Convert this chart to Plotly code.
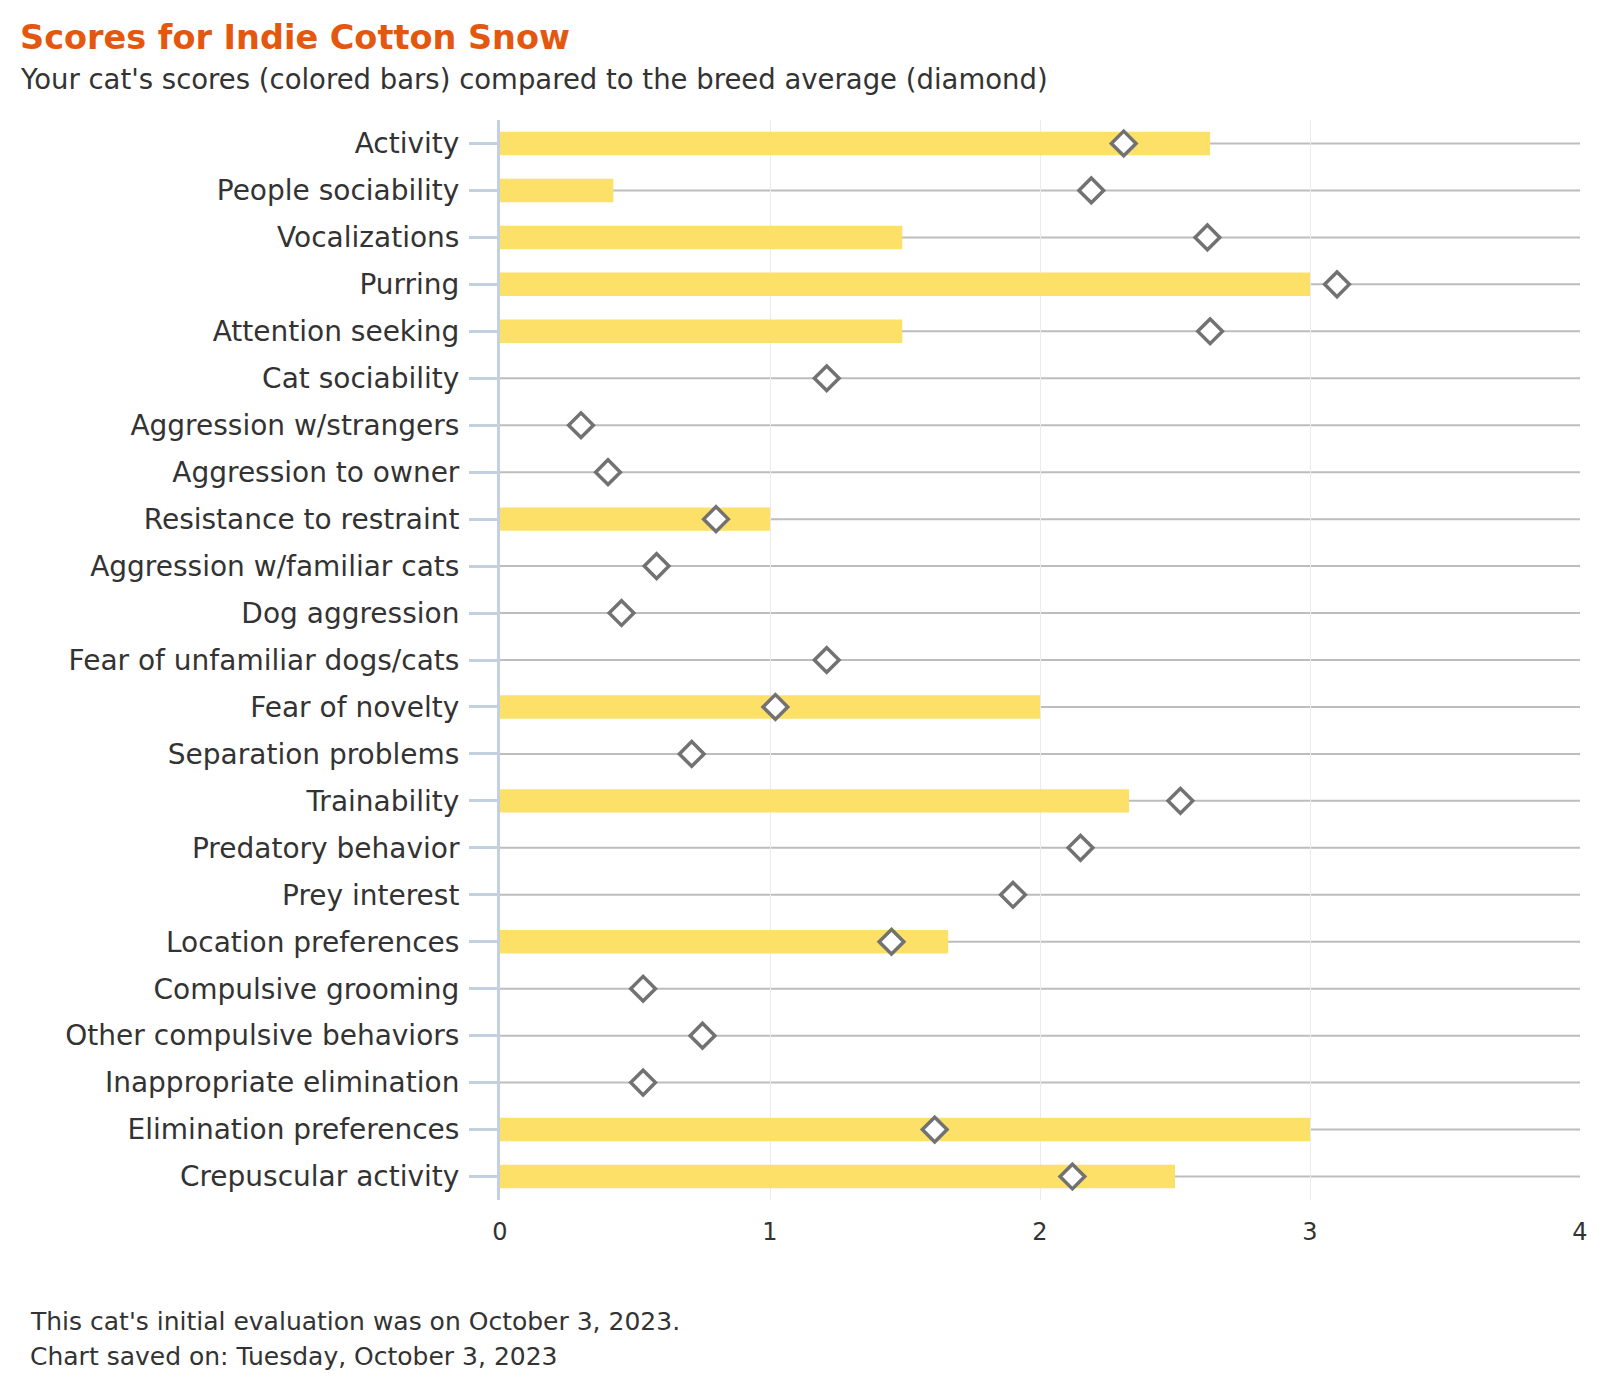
import plotly.graph_objects as go

categories = [
    "Activity", "People sociability", "Vocalizations", "Purring", "Attention seeking",
    "Cat sociability", "Aggression w/strangers", "Aggression to owner",
    "Resistance to restraint", "Aggression w/familiar cats", "Dog aggression",
    "Fear of unfamiliar dogs/cats", "Fear of novelty", "Separation problems",
    "Trainability", "Predatory behavior", "Prey interest", "Location preferences",
    "Compulsive grooming", "Other compulsive behaviors", "Inappropriate elimination",
    "Elimination preferences", "Crepuscular activity",
]
cat_scores = [2.63, 0.42, 1.49, 3.0, 1.49, 0, 0, 0, 1.0, 0, 0, 0, 2.0, 0,
              2.33, 0, 0, 1.66, 0, 0, 0, 3.0, 2.5]
breed_avg = [2.31, 2.19, 2.62, 3.10, 2.63, 1.21, 0.30, 0.40, 0.80, 0.58, 0.45,
             1.21, 1.02, 0.71, 2.52, 2.15, 1.90, 1.45, 0.53, 0.75, 0.53, 1.61, 2.12]
x_ticks = [0, 1, 2, 3, 4]
x_max = 4

FONT = "DejaVu Sans"
W, H = 1600, 1400
ML, MR, MT, MB = 492, 28, 112, 208
PW, PH = W - ML - MR, H - MT - MB
OFF = 8  # page body offset

fig = go.Figure()
fig.add_trace(go.Bar(
    y=categories, x=cat_scores, orientation="h", width=0.5,
    marker=dict(color="#FDE068", line=dict(width=0)), name="Your cat",
    hoverinfo="x+y",
))
fig.add_trace(go.Scatter(
    y=categories, x=breed_avg, mode="markers", name="Breed average",
    marker=dict(symbol="diamond", size=19, color="white",
                line=dict(color="#727272", width=3.5)),
))

for c in categories:
    fig.add_shape(type="line", xref="x", yref="y", x0=0, x1=x_max, y0=c, y1=c,
                  line=dict(color="#BDBDBD", width=2), layer="below")

fig.update_layout(
    width=W, height=H,
    margin=dict(l=ML, r=MR, t=MT, b=MB),
    plot_bgcolor="white", paper_bgcolor="white",
    showlegend=False,
    font=dict(family=FONT, color="#333333"),
    xaxis=dict(
        range=[0, x_max], tickvals=x_ticks, showgrid=True, gridcolor="#EBEBEB",
        gridwidth=1, zeroline=False, showline=False, ticks="",
        tickfont=dict(size=24, color="#333333"), automargin=False,
        ticklabelstandoff=15,
    ),
    yaxis=dict(
        categoryorder="array", categoryarray=categories,
        range=[len(categories) - 0.5, -0.5],
        showgrid=False, zeroline=False, showline=True, linecolor="#C2D0E0",
        linewidth=3, ticks="outside", ticklen=28, tickwidth=3, tickcolor="#C2D0E0",
        tickfont=dict(size=28, color="#333333"), automargin=False,
        ticklabelstandoff=4,
    ),
)

def px_x(px):
    return (px - OFF - ML) / PW

def px_y(py):
    return 1 + (MT - (py - OFF)) / PH

fig.add_annotation(
    text="<b>Scores for Indie Cotton Snow</b>",
    xref="paper", yref="paper", x=px_x(18), y=px_y(38), xanchor="left", yanchor="middle",
    showarrow=False, font=dict(family=FONT, size=33.5, color="#E4570F"),
)
fig.add_annotation(
    text="Your cat's scores (colored bars) compared to the breed average (diamond)",
    xref="paper", yref="paper", x=px_x(18), y=px_y(79), xanchor="left", yanchor="middle",
    showarrow=False, font=dict(family=FONT, size=27.5, color="#333333"),
)
fig.add_annotation(
    text="This cat's initial evaluation was on October 3, 2023.",
    xref="paper", yref="paper", x=px_x(28), y=px_y(1321), xanchor="left", yanchor="middle",
    showarrow=False, align="left", font=dict(family=FONT, size=25, color="#333333"),
)
fig.add_annotation(
    text="Chart saved on: Tuesday, October 3, 2023",
    xref="paper", yref="paper", x=px_x(28), y=px_y(1356), xanchor="left", yanchor="middle",
    showarrow=False, align="left", font=dict(family=FONT, size=25, color="#333333"),
)

fig.write_html("out.html")
